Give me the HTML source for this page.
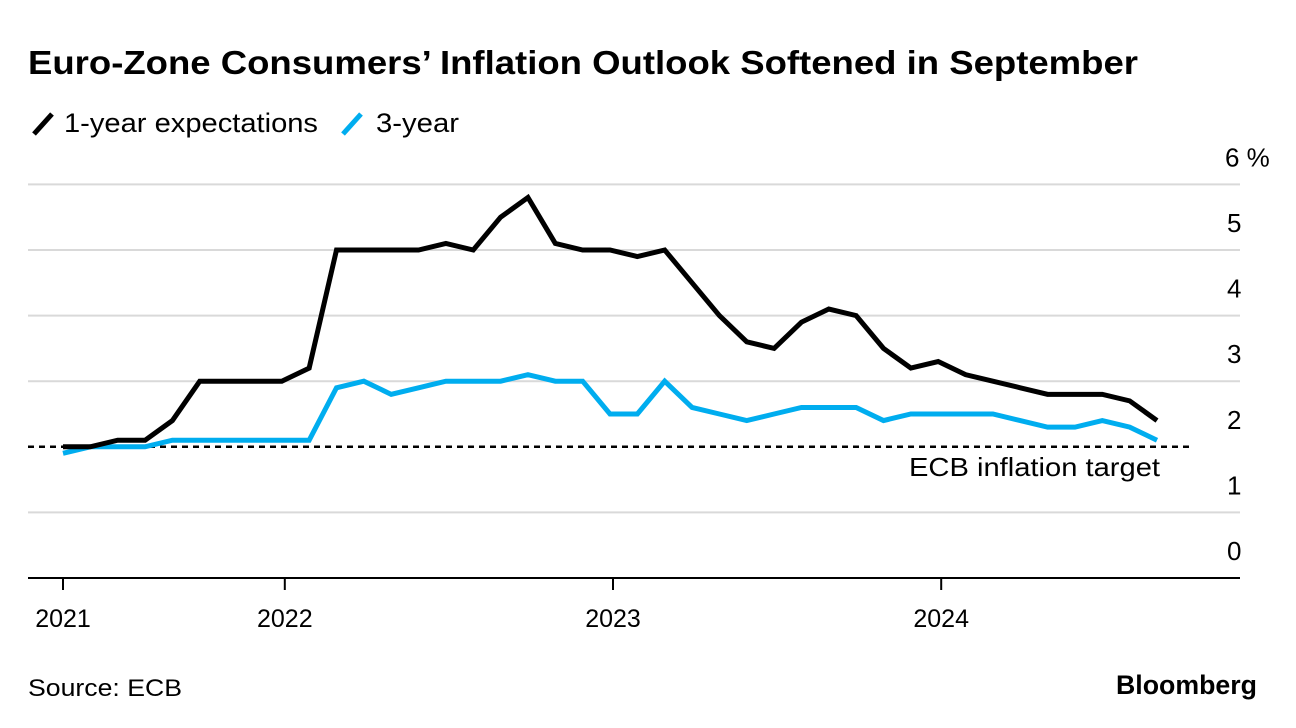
<!DOCTYPE html>
<html><head><meta charset="utf-8">
<style>
body{margin:0;background:#fff;font-family:"Liberation Sans",sans-serif;}
#wrap{position:relative;width:1296px;height:728px;overflow:hidden;}
</style></head>
<body>
<div id="wrap">
<svg id="chart" width="1296" height="728" xmlns="http://www.w3.org/2000/svg">
<text x="28" y="74" font-size="33" font-weight="bold" fill="#000" textLength="1110" lengthAdjust="spacingAndGlyphs">Euro-Zone Consumers’ Inflation Outlook Softened in September</text>
<g>
<line x1="34" y1="134" x2="52" y2="114" stroke="#000" stroke-width="5"/>
<text x="64" y="132" font-size="27" fill="#000" textLength="254" lengthAdjust="spacingAndGlyphs">1-year expectations</text>
<line x1="343" y1="134" x2="361" y2="114" stroke="#00adef" stroke-width="5"/>
<text x="376" y="132" font-size="27" fill="#000" textLength="83" lengthAdjust="spacingAndGlyphs">3-year</text>
</g>
<g id="grid"></g>
<g id="series"></g>
<text x="28" y="696" font-size="24" fill="#000" textLength="154" lengthAdjust="spacingAndGlyphs">Source: ECB</text>
<text x="1257" y="694" font-size="27" font-weight="bold" fill="#000" text-anchor="end" textLength="141" lengthAdjust="spacingAndGlyphs">Bloomberg</text>
</svg>
</div>
<script>
const yTicks = [0,1,2,3,4,5,6];
const yTickLabels = ["0","1","2","3","4","5","6 %"];
const xTickIdx = [0,8,20,32];
const xTickLabels = ["2021","2022","2023","2024"];
const oneYear = [2.0,2.0,2.1,2.1,2.4,3.0,3.0,3.0,3.0,3.2,5.0,5.0,5.0,5.0,5.1,5.0,5.5,5.8,5.1,5.0,5.0,4.9,5.0,4.5,4.0,3.6,3.5,3.9,4.1,4.0,3.5,3.2,3.3,3.1,3.0,2.9,2.8,2.8,2.8,2.7,2.4];
const threeYear = [1.9,2.0,2.0,2.0,2.1,2.1,2.1,2.1,2.1,2.1,2.9,3.0,2.8,2.9,3.0,3.0,3.0,3.1,3.0,3.0,2.5,2.5,3.0,2.6,2.5,2.4,2.5,2.6,2.6,2.6,2.4,2.5,2.5,2.5,2.5,2.4,2.3,2.3,2.4,2.3,2.1];
const target = 2;

const NS="http://www.w3.org/2000/svg";
const x = i => 63 + i*27.35;
const y = v => 578 - v*65.6;
const grid=document.getElementById('grid'), ser=document.getElementById('series');
function mk(tag,attrs,parent){const e=document.createElementNS(NS,tag);for(const k in attrs)e.setAttribute(k,attrs[k]);parent.appendChild(e);return e;}

yTicks.forEach((t,k)=>{
  if(t>0 && t!==target){
    const g=mk('line',{x1:28,x2:1240,y1:y(t),y2:y(t),stroke:'#d9d9d9','stroke-width':2},grid);
    
    
  }
  const lb=mk('text',{x:t===6?1225:1227,y:y(t)-18,'font-size':26,fill:'#000'},grid);
  lb.textContent=yTickLabels[k];
  
  
});
const base=mk('line',{x1:28,x2:1240,y1:y(0),y2:y(0),stroke:'#000','stroke-width':2},grid);


xTickIdx.forEach((idx,k)=>{
  const tx=k===0?x(idx):x(idx)+3;
  const tk=mk('line',{x1:tx,x2:tx,y1:y(0),y2:y(0)+12,stroke:'#000','stroke-width':2},grid);
  
  
  const lb=mk('text',{x:tx,y:627,'font-size':25,fill:'#000','text-anchor':'middle'},grid);
  lb.textContent=xTickLabels[k];
  
  
});
const tl=mk('line',{x1:28,x2:1192,y1:y(target),y2:y(target),stroke:'#000','stroke-width':2.5,'stroke-dasharray':'6,5'},grid);


const tt=mk('text',{x:1160,y:476,'font-size':26,fill:'#000','text-anchor':'end',textLength:251,lengthAdjust:'spacingAndGlyphs'},grid);
tt.textContent='ECB inflation target';



function line(data,color,name){
  const p=mk('polyline',{points:data.map((v,i)=>x(i)+','+y(v)).join(' '),fill:'none',stroke:color,'stroke-width':5,'stroke-linejoin':'miter'},ser);
  
  
}
line(threeYear,'#00adef','line-3-year');
line(oneYear,'#000','line-1-year');
</script>
</body></html>
